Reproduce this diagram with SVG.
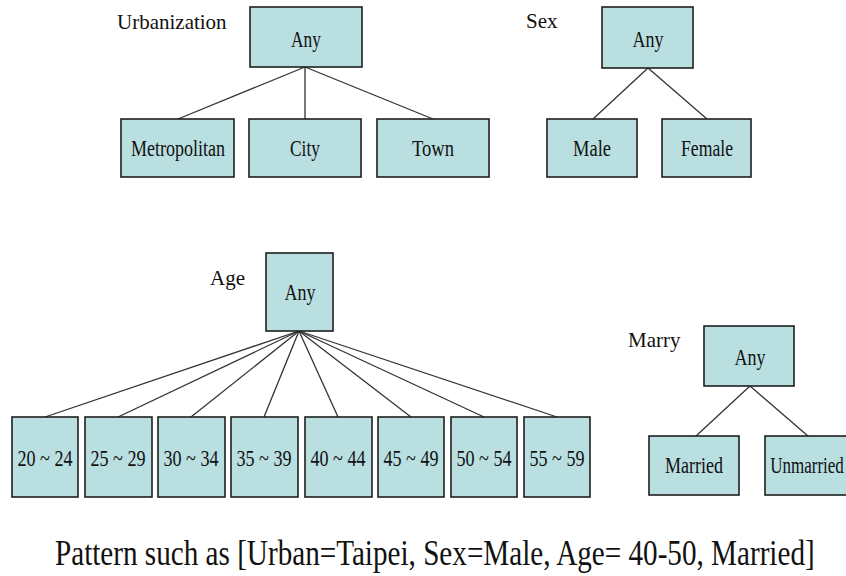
<svg xmlns="http://www.w3.org/2000/svg" width="846" height="576" viewBox="0 0 846 576">
  <style>
    .box { fill: #b9dfe1; stroke: #1e1e1e; stroke-width: 1.6; }
    text { font-family: 'Liberation Serif', 'DejaVu Serif', serif; fill: #111; }
    .lbl { font-size: 23px; text-anchor: middle; }
    .title { font-size: 21px; }
    .edge { stroke: #333; stroke-width: 1.3; fill: none; }
    .caption { font-size: 36px; }
  </style>
  <rect width="846" height="576" fill="#ffffff"/>

  <!-- connectors -->
  <g id="connectors">
    <line class="edge" x1="305" y1="67" x2="178" y2="119"/>
    <line class="edge" x1="305" y1="67" x2="305" y2="119"/>
    <line class="edge" x1="305" y1="67" x2="433" y2="119"/>
    <line class="edge" x1="648" y1="68" x2="593" y2="119"/>
    <line class="edge" x1="648" y1="68" x2="707" y2="119"/>
    <line class="edge" x1="299" y1="331" x2="45" y2="417"/>
    <line class="edge" x1="299" y1="331" x2="118" y2="417"/>
    <line class="edge" x1="299" y1="331" x2="191" y2="417"/>
    <line class="edge" x1="299" y1="331" x2="264" y2="417"/>
    <line class="edge" x1="299" y1="331" x2="338" y2="417"/>
    <line class="edge" x1="299" y1="331" x2="411" y2="417"/>
    <line class="edge" x1="299" y1="331" x2="484" y2="417"/>
    <line class="edge" x1="299" y1="331" x2="557" y2="417"/>
    <line class="edge" x1="750" y1="386" x2="696" y2="436"/>
    <line class="edge" x1="750" y1="386" x2="808" y2="436"/>
  </g>

  <g font-family="Liberation Serif, DejaVu Serif, serif">
  <!-- Urbanization hierarchy -->
  <text class="title" x="117" y="29">Urbanization</text>
  <g id="urban-any"><rect class="box" x="250" y="7" width="112" height="60"/><text class="lbl" x="306" y="47" textLength="30" lengthAdjust="spacingAndGlyphs">Any</text></g>
  <g id="urban-metropolitan"><rect class="box" x="121" y="119" width="113" height="58"/><text class="lbl" x="178" y="156" textLength="94" lengthAdjust="spacingAndGlyphs">Metropolitan</text></g>
  <g id="urban-city"><rect class="box" x="249" y="119" width="112" height="58"/><text class="lbl" x="305" y="156" textLength="30" lengthAdjust="spacingAndGlyphs">City</text></g>
  <g id="urban-town"><rect class="box" x="377" y="119" width="112" height="58"/><text class="lbl" x="433" y="156" textLength="42" lengthAdjust="spacingAndGlyphs">Town</text></g>

  <!-- Sex hierarchy -->
  <text class="title" x="526" y="28">Sex</text>
  <g id="sex-any"><rect class="box" x="602" y="7" width="91" height="61"/><text class="lbl" x="648" y="47" textLength="31" lengthAdjust="spacingAndGlyphs">Any</text></g>
  <g id="sex-male"><rect class="box" x="547" y="119" width="90" height="58"/><text class="lbl" x="592" y="156" textLength="38" lengthAdjust="spacingAndGlyphs">Male</text></g>
  <g id="sex-female"><rect class="box" x="662" y="119" width="89" height="58"/><text class="lbl" x="707" y="156" textLength="52" lengthAdjust="spacingAndGlyphs">Female</text></g>

  <!-- Age hierarchy -->
  <text class="title" x="210" y="285">Age</text>
  <g id="age-any"><rect class="box" x="266" y="253" width="67" height="78"/><text class="lbl" x="300" y="300" textLength="31" lengthAdjust="spacingAndGlyphs">Any</text></g>
  <g id="age-20-24"><rect class="box" x="12" y="417" width="66" height="80"/><text class="lbl" x="45" y="466" textLength="55" lengthAdjust="spacingAndGlyphs">20 ~ 24</text></g>
  <g id="age-25-29"><rect class="box" x="85" y="417" width="67" height="80"/><text class="lbl" x="118" y="466" textLength="55" lengthAdjust="spacingAndGlyphs">25 ~ 29</text></g>
  <g id="age-30-34"><rect class="box" x="158" y="417" width="67" height="80"/><text class="lbl" x="191" y="466" textLength="55" lengthAdjust="spacingAndGlyphs">30 ~ 34</text></g>
  <g id="age-35-39"><rect class="box" x="231" y="417" width="67" height="80"/><text class="lbl" x="264" y="466" textLength="55" lengthAdjust="spacingAndGlyphs">35 ~ 39</text></g>
  <g id="age-40-44"><rect class="box" x="305" y="417" width="67" height="80"/><text class="lbl" x="338" y="466" textLength="55" lengthAdjust="spacingAndGlyphs">40 ~ 44</text></g>
  <g id="age-45-49"><rect class="box" x="378" y="417" width="66" height="80"/><text class="lbl" x="411" y="466" textLength="55" lengthAdjust="spacingAndGlyphs">45 ~ 49</text></g>
  <g id="age-50-54"><rect class="box" x="451" y="417" width="66" height="80"/><text class="lbl" x="484" y="466" textLength="55" lengthAdjust="spacingAndGlyphs">50 ~ 54</text></g>
  <g id="age-55-59"><rect class="box" x="524" y="417" width="66" height="80"/><text class="lbl" x="557" y="466" textLength="55" lengthAdjust="spacingAndGlyphs">55 ~ 59</text></g>

  <!-- Marital status hierarchy -->
  <text class="title" x="628" y="347">Marry</text>
  <g id="marry-any"><rect class="box" x="704" y="326" width="90" height="60"/><text class="lbl" x="750" y="365" textLength="31" lengthAdjust="spacingAndGlyphs">Any</text></g>
  <g id="marry-married"><rect class="box" x="649" y="436" width="90" height="59"/><text class="lbl" x="694" y="473" textLength="58" lengthAdjust="spacingAndGlyphs">Married</text></g>
  <g id="marry-unmarried"><rect class="box" x="765" y="436" width="90" height="59"/><text class="lbl" transform="translate(807,473) scale(0.74,1)">Unmarried</text></g>

  <!-- caption, narrowed horizontally -->
  <text class="caption" transform="translate(55,565) scale(0.81,1)">Pattern such as [Urban=Taipei, Sex=Male, Age= 40-50, Married]</text>
  </g>
</svg>
